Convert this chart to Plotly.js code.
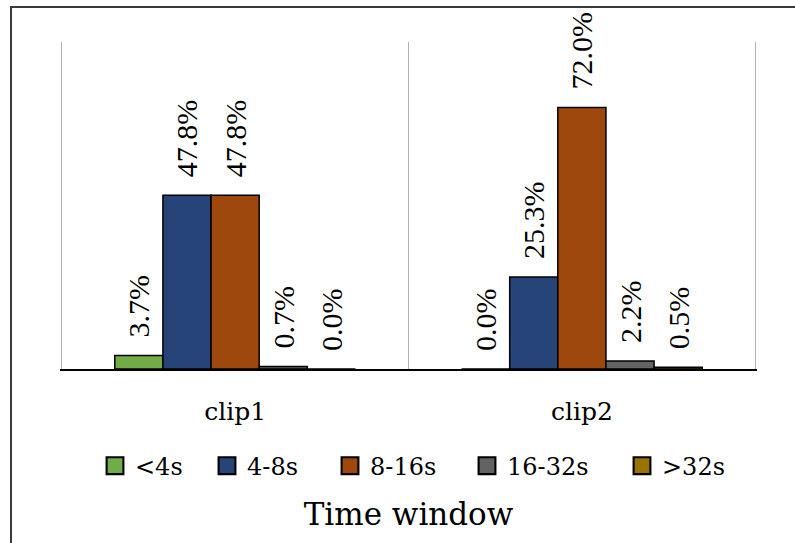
<!DOCTYPE html>
<html>
<head>
<meta charset="utf-8">
<script src="https://cdn.plot.ly/plotly-3.0.1.min.js"></script>
<style>
  html, body { margin: 0; padding: 0; background: #ffffff; }
  #wrap { position: relative; width: 795px; height: 543px; overflow: hidden; }
  #frame { position: absolute; left: 10px; top: 6px; width: 800px; height: 560px;
           border-left: 2px solid #3a3a3a; border-top: 2px solid #3a3a3a; pointer-events: none; }
  #chart { position: absolute; left: 0; top: 0; width: 795px; height: 543px; }
  #chart .legendpoints path { transform: translate(20px, 0px) scale(1.4); }
</style>
</head>
<body>
<div id="wrap">
  <div id="chart"></div>
  <div id="frame"></div>
</div>
<script>
const categories = ["clip1", "clip2"];
const seriesNames = ["<4s", "4-8s", "8-16s", "16-32s", ">32s"];
const lt4s = [3.7, 0.0];
const s4to8 = [47.8, 25.3];
const s8to16 = [47.8, 72.0];
const s16to32 = [0.7, 2.2];
const gt32s = [0.0, 0.5];
const seriesColors = ["#70ad47", "#264478", "#9e480e", "#636363", "#997300"];

const FONT = "'DejaVu Serif', 'Liberation Serif', serif";
const LABEL_FONT = "'Liberation Serif', 'DejaVu Serif', serif";
const allSeries = [lt4s, s4to8, s8to16, s16to32, gt32s];
const legendIds = ["legend", "legend2", "legend3", "legend4", "legend5"];
// left pixel of each legend box
const legendLeftPx = [95, 207, 330, 467, 622];

const PLOT_L = 60, PLOT_W = 697;

const traces = allSeries.map((vals, i) => ({
  type: "bar",
  name: seriesNames[i],
  legend: legendIds[i],
  x: categories,
  y: vals,
  marker: { color: seriesColors[i], line: { color: "#000000", width: 1.5 } },
  text: vals.map(v => "\u00a0\u00a0" + v.toFixed(1) + "%"),
  texttemplate: "%{text}",
  textposition: "outside",
  textangle: -90,
  cliponaxis: false,
  constraintext: "none",
  outsidetextfont: { family: LABEL_FONT, size: 30, color: "#000000" },
  hoverinfo: "skip"
}));

const layout = {
  width: 795,
  height: 543,
  margin: { l: PLOT_L, r: 795 - PLOT_L - PLOT_W, t: 42, b: 174 },
  paper_bgcolor: "rgba(0,0,0,0)",
  plot_bgcolor: "#ffffff",
  font: { family: FONT, color: "#000000" },
  barmode: "group",
  bargap: 0.306,
  bargroupgap: 0,
  showlegend: true,
  xaxis: {
    type: "category",
    range: [-0.505, 1.505],
    tickson: "boundaries",
    ticks: "",
    showgrid: true,
    gridcolor: "#b3b3b3",
    gridwidth: 1.5,
    showline: true,
    linecolor: "#000000",
    linewidth: 2,
    tickfont: { family: FONT, size: 25, color: "#000000" },
    ticklabelstandoff: 19,
    title: { text: "Time window", font: { family: FONT, size: 31, color: "#000000" }, standoff: 78 },
    automargin: false,
    fixedrange: true
  },
  yaxis: {
    range: [0, 90],
    visible: false,
    showgrid: false,
    zeroline: false,
    fixedrange: true
  }
};

legendIds.forEach((id, i) => {
  layout[id] = {
    orientation: "h",
    x: (legendLeftPx[i] - PLOT_L) / PLOT_W,
    xanchor: "left",
    y: -0.297,
    yanchor: "middle",
    font: { family: FONT, size: 24, color: "#000000" },
    itemwidth: 30,
    bgcolor: "rgba(0,0,0,0)"
  };
});

Plotly.newPlot("chart", traces, layout, { displayModeBar: false, staticPlot: true });
</script>
</body>
</html>
